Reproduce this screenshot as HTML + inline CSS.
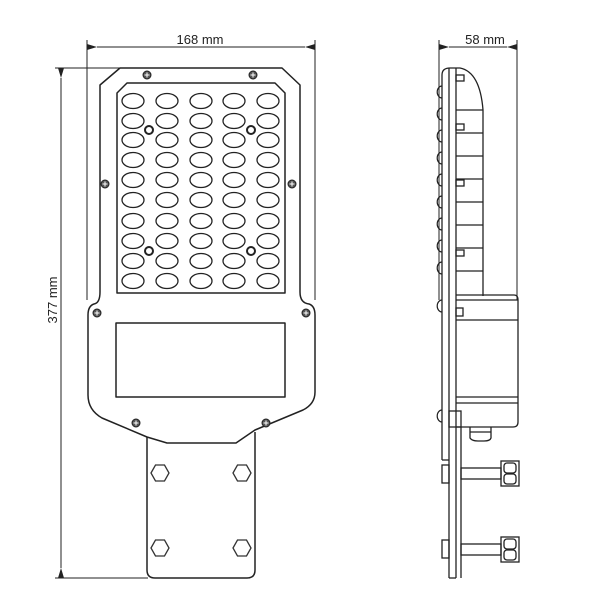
<!DOCTYPE html>
<html><head><style>
body{margin:0;background:#fff;width:600px;height:600px;overflow:hidden}
svg{display:block}
text{font-family:"Liberation Sans",sans-serif;font-size:13px;fill:#222}
</style></head><body>
<svg width="600" height="600" viewBox="0 0 600 600" xmlns="http://www.w3.org/2000/svg">
<defs>
<marker id="a" markerWidth="10" markerHeight="6" refX="0" refY="3" orient="auto-start-reverse" markerUnits="userSpaceOnUse"><path d="M0,3 L10,0 L10,6 Z" fill="#222"/></marker>
<g id="scr"><circle r="4" fill="#555" stroke="#222" stroke-width="1"/><path d="M-2.5,0H2.5M0,-2.5V2.5" stroke="#fff" stroke-width="1"/></g>
<ellipse id="led" rx="11" ry="7.5" fill="none" stroke="#222" stroke-width="1.3"/>
<polygon id="hex" points="-9,0 -4.5,-8 4.5,-8 9,0 4.5,8 -4.5,8" fill="none" stroke="#333" stroke-width="1.3"/>
<g id="row"><use href="#led" x="133"/><use href="#led" x="167"/><use href="#led" x="201"/><use href="#led" x="234"/><use href="#led" x="268"/></g>
</defs>
<g stroke="#222" stroke-width="1" fill="none">
<line x1="87" y1="40" x2="87" y2="300"/>
<line x1="315" y1="40" x2="315" y2="300"/>
<line x1="97" y1="47" x2="305" y2="47" marker-start="url(#a)" marker-end="url(#a)"/>
<line x1="55" y1="68" x2="120" y2="68"/>
<line x1="55" y1="578" x2="148" y2="578"/>
<line x1="61" y1="78" x2="61" y2="568" marker-start="url(#a)" marker-end="url(#a)"/>
<line x1="439" y1="40" x2="439" y2="300"/>
<line x1="517" y1="40" x2="517" y2="300"/>
<line x1="449" y1="47" x2="507" y2="47" marker-start="url(#a)" marker-end="url(#a)"/>
</g>
<text x="200" y="44" text-anchor="middle">168 mm</text>
<text x="485" y="44" text-anchor="middle">58 mm</text>
<text transform="translate(57,300) rotate(-90)" text-anchor="middle">377 mm</text>

<g stroke="#222" stroke-width="1.5" fill="none" stroke-linejoin="round">
<path d="M120,68 H282 L300,85 V292 Q300,303 309,304 Q315,306 315,315 V392 Q315,404 303,410 L255,430 L236,443 H167 L147,437 L102,418 Q88,410 88,395 V315 Q88,306 94,304 Q100,303 100,292 V85 Z"/>
<path d="M127,83 H275 L285,93 V293 H117 V93 Z"/>
<rect x="116" y="323" width="169" height="74"/>
<path d="M147,437 V570 Q147,578 155,578 H247 Q255,578 255,570 V432"/>
</g>
<g>
<use href="#scr" x="147" y="75"/><use href="#scr" x="253" y="75"/>
<use href="#scr" x="105" y="184"/><use href="#scr" x="292" y="184"/>
<use href="#scr" x="97" y="313"/><use href="#scr" x="306" y="313"/>
<use href="#scr" x="136" y="423"/><use href="#scr" x="266" y="423"/>
<use href="#hex" x="160" y="473"/><use href="#hex" x="242" y="473"/>
<use href="#hex" x="160" y="548"/><use href="#hex" x="242" y="548"/>
</g>
<use href="#row" y="101"/><use href="#row" y="121"/><use href="#row" y="140"/><use href="#row" y="160"/><use href="#row" y="180"/>
<use href="#row" y="200"/><use href="#row" y="221"/><use href="#row" y="241"/><use href="#row" y="261"/><use href="#row" y="281"/>
<g fill="#fff" stroke="#222" stroke-width="2">
<circle cx="149" cy="130" r="4"/><circle cx="251" cy="130" r="4"/>
<circle cx="149" cy="251" r="4"/><circle cx="251" cy="251" r="4"/>
</g>

<g stroke="#222" stroke-width="1.3" fill="none">
<path d="M442,75 Q442,68 450,68 H460 Q480,72 483,110 V296"/>
<line x1="442" y1="75" x2="442" y2="460"/>
<line x1="442" y1="460" x2="449" y2="460"/>
<line x1="449" y1="68" x2="449" y2="578"/>
<line x1="456" y1="68" x2="456" y2="578"/>
<line x1="461" y1="427" x2="461" y2="578"/>
<line x1="449" y1="578" x2="456" y2="578"/>
<line x1="456" y1="110" x2="483" y2="110"/><line x1="456" y1="133" x2="483" y2="133"/>
<line x1="456" y1="156" x2="483" y2="156"/><line x1="456" y1="179" x2="483" y2="179"/>
<line x1="456" y1="202" x2="483" y2="202"/><line x1="456" y1="225" x2="483" y2="225"/>
<line x1="456" y1="248" x2="483" y2="248"/><line x1="456" y1="271" x2="483" y2="271"/>
<rect x="456" y="75" width="8" height="6"/><rect x="456" y="124" width="8" height="6"/>
<rect x="456" y="180" width="8" height="6"/><rect x="456" y="250" width="8" height="6"/>
<path d="M456,295 H514 Q518,295 518,300 V422 Q518,427 513,427 H456"/>
<line x1="456" y1="300" x2="518" y2="300"/>
<line x1="456" y1="320" x2="518" y2="320"/>
<line x1="456" y1="397" x2="518" y2="397"/>
<line x1="456" y1="403" x2="518" y2="403"/>
<rect x="456" y="308" width="7" height="8"/>
<rect x="449" y="411" width="12" height="16"/>
<path d="M470,427 V438 Q472,441 478,441 H484 Q490,441 491,438 V427"/>
<line x1="470" y1="432" x2="491" y2="432"/>
<rect x="442" y="465" width="7" height="18"/>
<rect x="461" y="468" width="40" height="11"/>
<rect x="501" y="461" width="18" height="25"/>
<rect x="504" y="463" width="12" height="10" rx="3"/>
<rect x="504" y="474" width="12" height="10" rx="3"/>
<rect x="442" y="540" width="7" height="18"/>
<rect x="461" y="544" width="40" height="11"/>
<rect x="501" y="537" width="18" height="25"/>
<rect x="504" y="539" width="12" height="10" rx="3"/>
<rect x="504" y="550" width="12" height="10" rx="3"/>
</g>
<g stroke="#222" stroke-width="1.2" fill="none">
<path d="M442,86 a4,5 0 0 0 0,12"/><path d="M442,108 a4,5 0 0 0 0,12"/>
<path d="M442,130 a4,5 0 0 0 0,12"/><path d="M442,152 a4,5 0 0 0 0,12"/>
<path d="M442,174 a4,5 0 0 0 0,12"/><path d="M442,196 a4,5 0 0 0 0,12"/>
<path d="M442,218 a4,5 0 0 0 0,12"/><path d="M442,240 a4,5 0 0 0 0,12"/>
<path d="M442,262 a4,5 0 0 0 0,12"/><path d="M442,300 a4,5 0 0 0 0,12"/>
<path d="M442,410 a4,5 0 0 0 0,12"/>
</g>
</svg>
</body></html>
